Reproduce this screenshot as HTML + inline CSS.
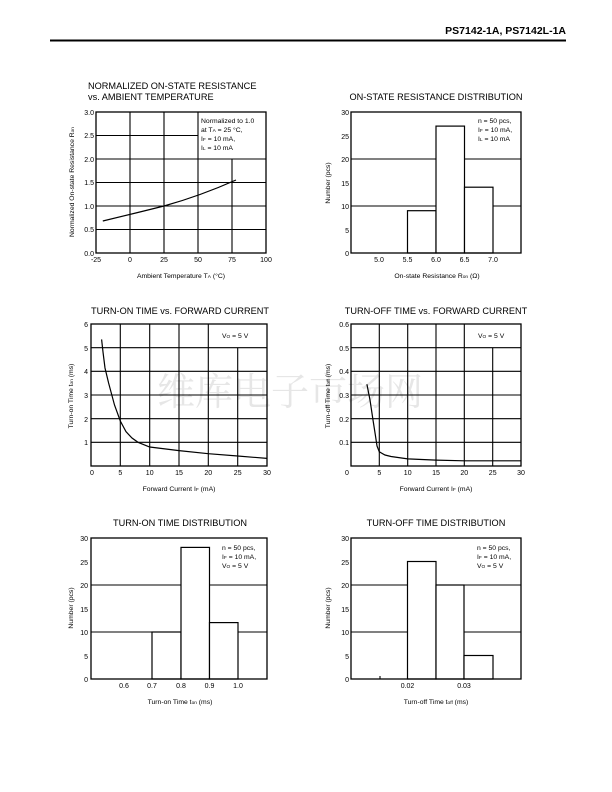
<!DOCTYPE html>
<html><head><meta charset="utf-8"><style>
html,body{margin:0;padding:0;background:#fff}
svg{display:block}
text{font-family:"Liberation Sans",Arial,sans-serif;fill:#000}
.t{font-size:9.2px}
.k{font-size:7px}
.l{font-size:6.8px}
.s{font-size:4.8px}
.g{stroke:#000;stroke-width:1.1;fill:none}
.f{stroke:#000;stroke-width:1.3;fill:none}
.c{stroke:#000;stroke-width:1.2;fill:none}
.b{stroke:#000;stroke-width:1.2;fill:#fff}
</style></head><body>
<svg width="612" height="792" viewBox="0 0 612 792" xmlns="http://www.w3.org/2000/svg">
<text x="566" y="34" text-anchor="end" style="font-size:10.5px;font-weight:bold">PS7142-1A, PS7142L-1A</text>
<line x1="50" y1="40.5" x2="566" y2="40.5" stroke="#000" stroke-width="2"/>

<text x="290" y="405" text-anchor="middle" style="font-family:'Noto Serif CJK SC',serif;font-size:38px;fill:#e6e6e6">维库电子市场网</text>

<!-- Plot 1 -->
<text class="t" x="88" y="89">NORMALIZED ON-STATE RESISTANCE</text>
<text class="t" x="88" y="100">vs. AMBIENT TEMPERATURE</text>
<g class="g">
<line x1="130" y1="112" x2="130" y2="253"/><line x1="164" y1="112" x2="164" y2="253"/><line x1="198" y1="112" x2="198" y2="253"/><line x1="232" y1="159" x2="232" y2="253"/>
<line x1="96" y1="135.5" x2="198" y2="135.5"/><line x1="96" y1="159" x2="266" y2="159"/><line x1="96" y1="182.5" x2="266" y2="182.5"/><line x1="96" y1="206" x2="266" y2="206"/><line x1="96" y1="229.5" x2="266" y2="229.5"/>
</g>
<rect class="f" x="96" y="112" width="170" height="141"/>
<path class="c" d="M102.8,221 Q130,214.5 164,206 Q200,196 236,180"/>
<g class="l"><text x="201" y="123">Normalized to 1.0</text><text x="201" y="132">at T<tspan class="s">A</tspan> = 25 °C,</text><text x="201" y="141">I<tspan class="s">F</tspan> = 10 mA,</text><text x="201" y="150">I<tspan class="s">L</tspan> = 10 mA</text></g>
<g class="k" text-anchor="end"><text x="94" y="115">3.0</text><text x="94" y="138">2.5</text><text x="94" y="162">2.0</text><text x="94" y="185">1.5</text><text x="94" y="209">1.0</text><text x="94" y="232">0.5</text><text x="94" y="256">0.0</text></g>
<g class="k" text-anchor="middle"><text x="96" y="262">-25</text><text x="130" y="262">0</text><text x="164" y="262">25</text><text x="198" y="262">50</text><text x="232" y="262">75</text><text x="266" y="262">100</text></g>
<text class="l" x="181" y="278" text-anchor="middle">Ambient Temperature  T<tspan class="s">A</tspan> (°C)</text>
<text class="l" transform="translate(74,182) rotate(-90)" text-anchor="middle">Normalized On-state Resistance  R<tspan class="s">on</tspan></text>

<!-- Plot 2 -->
<text class="t" x="436" y="100" text-anchor="middle">ON-STATE RESISTANCE DISTRIBUTION</text>
<g class="g"><line x1="351" y1="159" x2="521" y2="159"/><line x1="351" y1="206" x2="521" y2="206"/></g>
<rect class="b" x="407.5" y="210.7" width="28.5" height="42.3"/>
<rect class="b" x="436" y="126.1" width="28.5" height="126.9"/>
<rect class="b" x="464.5" y="187.2" width="28.5" height="65.8"/>
<rect class="f" x="351" y="112" width="170" height="141"/>
<g class="l"><text x="478" y="123">n = 50 pcs,</text><text x="478" y="132">I<tspan class="s">F</tspan> = 10 mA,</text><text x="478" y="141">I<tspan class="s">L</tspan> = 10 mA</text></g>
<g class="k" text-anchor="end"><text x="349" y="115">30</text><text x="349" y="139">25</text><text x="349" y="162">20</text><text x="349" y="186">15</text><text x="349" y="209">10</text><text x="349" y="233">5</text><text x="349" y="256">0</text></g>
<g class="k" text-anchor="middle"><text x="379" y="262">5.0</text><text x="407.5" y="262">5.5</text><text x="436" y="262">6.0</text><text x="464.5" y="262">6.5</text><text x="493" y="262">7.0</text></g>
<text class="l" x="437" y="278" text-anchor="middle">On-state Resistance  R<tspan class="s">on</tspan>  (Ω)</text>
<text class="l" transform="translate(330,183) rotate(-90)" text-anchor="middle">Number  (pcs)</text>

<!-- Plot 3 -->
<text class="t" x="180" y="314" text-anchor="middle">TURN-ON TIME vs. FORWARD CURRENT</text>
<g class="g">
<line x1="120.3" y1="324" x2="120.3" y2="466"/><line x1="149.7" y1="324" x2="149.7" y2="466"/><line x1="179" y1="324" x2="179" y2="466"/><line x1="208.3" y1="324" x2="208.3" y2="466"/><line x1="237.7" y1="347.7" x2="237.7" y2="466"/>
<line x1="91" y1="347.7" x2="267" y2="347.7"/><line x1="91" y1="371.3" x2="267" y2="371.3"/><line x1="91" y1="395" x2="267" y2="395"/><line x1="91" y1="418.7" x2="267" y2="418.7"/><line x1="91" y1="442.3" x2="267" y2="442.3"/>
</g>
<rect class="f" x="91" y="324" width="176" height="142"/>
<path class="c" d="M101.6,339.4 L103,352 L105,368 L108.6,383 L114.5,405 L120.3,421 L126,431.7 L132,438 L138,442.3 L149.7,447 L179,450.6 L208.3,453.7 L237.7,456 L267,458.4"/>
<text class="l" x="222" y="338">V<tspan class="s">O</tspan> = 5 V</text>
<g class="k" text-anchor="end"><text x="88" y="327">6</text><text x="88" y="351">5</text><text x="88" y="374">4</text><text x="88" y="398">3</text><text x="88" y="422">2</text><text x="88" y="445">1</text></g>
<g class="k" text-anchor="middle"><text x="92" y="475">0</text><text x="120.3" y="475">5</text><text x="149.7" y="475">10</text><text x="179" y="475">15</text><text x="208.3" y="475">20</text><text x="237.7" y="475">25</text><text x="267" y="475">30</text></g>
<text class="l" x="179" y="491" text-anchor="middle">Forward Current  I<tspan class="s">F</tspan> (mA)</text>
<text class="l" transform="translate(73,396) rotate(-90)" text-anchor="middle">Turn-on Time  t<tspan class="s">on</tspan> (ms)</text>

<!-- Plot 4 -->
<text class="t" x="436" y="314" text-anchor="middle">TURN-OFF TIME vs. FORWARD CURRENT</text>
<g class="g">
<line x1="379.3" y1="324" x2="379.3" y2="466"/><line x1="407.7" y1="324" x2="407.7" y2="466"/><line x1="436" y1="324" x2="436" y2="466"/><line x1="464.3" y1="324" x2="464.3" y2="466"/><line x1="492.7" y1="347.7" x2="492.7" y2="466"/>
<line x1="351" y1="347.7" x2="521" y2="347.7"/><line x1="351" y1="371.3" x2="521" y2="371.3"/><line x1="351" y1="395" x2="521" y2="395"/><line x1="351" y1="418.7" x2="521" y2="418.7"/><line x1="351" y1="442.3" x2="521" y2="442.3"/>
</g>
<rect class="f" x="351" y="324" width="170" height="142"/>
<path class="c" d="M366.9,384.3 L370,400 L373,420 L375.5,436 L377,446 L379.3,451.8 L385,455 L391,456.5 L407.7,458.9 L436,460.1 L464.3,460.8 L521,460.8"/>
<text class="l" x="478" y="338">V<tspan class="s">O</tspan> = 5 V</text>
<g class="k" text-anchor="end"><text x="349" y="327">0.6</text><text x="349" y="351">0.5</text><text x="349" y="374">0.4</text><text x="349" y="398">0.3</text><text x="349" y="422">0.2</text><text x="349" y="445">0.1</text></g>
<g class="k" text-anchor="middle"><text x="347" y="475">0</text><text x="379.3" y="475">5</text><text x="407.7" y="475">10</text><text x="436" y="475">15</text><text x="464.3" y="475">20</text><text x="492.7" y="475">25</text><text x="521" y="475">30</text></g>
<text class="l" x="436" y="491" text-anchor="middle">Forward Current  I<tspan class="s">F</tspan> (mA)</text>
<text class="l" transform="translate(330,396) rotate(-90)" text-anchor="middle">Turn-off Time  t<tspan class="s">off</tspan> (ms)</text>

<!-- Plot 5 -->
<text class="t" x="180" y="526" text-anchor="middle">TURN-ON TIME DISTRIBUTION</text>
<g class="g"><line x1="91" y1="585" x2="267" y2="585"/><line x1="91" y1="632" x2="267" y2="632"/></g>
<rect class="b" x="152" y="632" width="29" height="47"/>
<rect class="b" x="181" y="547.4" width="28.5" height="131.6"/>
<rect class="b" x="209.5" y="622.6" width="28.5" height="56.4"/>
<rect class="f" x="91" y="538" width="176" height="141"/>
<g class="l"><text x="222" y="550">n = 50 pcs,</text><text x="222" y="559">I<tspan class="s">F</tspan> = 10 mA,</text><text x="222" y="568">V<tspan class="s">O</tspan> = 5 V</text></g>
<g class="k" text-anchor="end"><text x="88" y="541">30</text><text x="88" y="565">25</text><text x="88" y="588">20</text><text x="88" y="612">15</text><text x="88" y="635">10</text><text x="88" y="659">5</text><text x="88" y="682">0</text></g>
<g class="k" text-anchor="middle"><text x="124" y="688">0.6</text><text x="152" y="688">0.7</text><text x="181" y="688">0.8</text><text x="209.5" y="688">0.9</text><text x="238" y="688">1.0</text></g>
<text class="l" x="180" y="704" text-anchor="middle">Turn-on Time  t<tspan class="s">on</tspan> (ms)</text>
<text class="l" transform="translate(73,608) rotate(-90)" text-anchor="middle">Number  (pcs)</text>

<!-- Plot 6 -->
<text class="t" x="436" y="526" text-anchor="middle">TURN-OFF TIME DISTRIBUTION</text>
<g class="g"><line x1="351" y1="585" x2="521" y2="585"/><line x1="351" y1="632" x2="521" y2="632"/><line x1="380" y1="676" x2="380" y2="679"/></g>
<rect class="b" x="407.5" y="561.5" width="28.5" height="117.5"/>
<rect class="b" x="436" y="585" width="28" height="94"/>
<rect class="b" x="464" y="655.5" width="29" height="23.5"/>
<rect class="f" x="351" y="538" width="170" height="141"/>
<g class="l"><text x="477" y="550">n = 50 pcs,</text><text x="477" y="559">I<tspan class="s">F</tspan> = 10 mA,</text><text x="477" y="568">V<tspan class="s">O</tspan> = 5 V</text></g>
<g class="k" text-anchor="end"><text x="349" y="541">30</text><text x="349" y="565">25</text><text x="349" y="588">20</text><text x="349" y="612">15</text><text x="349" y="635">10</text><text x="349" y="659">5</text><text x="349" y="682">0</text></g>
<g class="k" text-anchor="middle"><text x="407.5" y="688">0.02</text><text x="464" y="688">0.03</text></g>
<text class="l" x="436" y="704" text-anchor="middle">Turn-off Time  t<tspan class="s">off</tspan> (ms)</text>
<text class="l" transform="translate(330,608) rotate(-90)" text-anchor="middle">Number (pcs)</text>
</svg>
</body></html>
